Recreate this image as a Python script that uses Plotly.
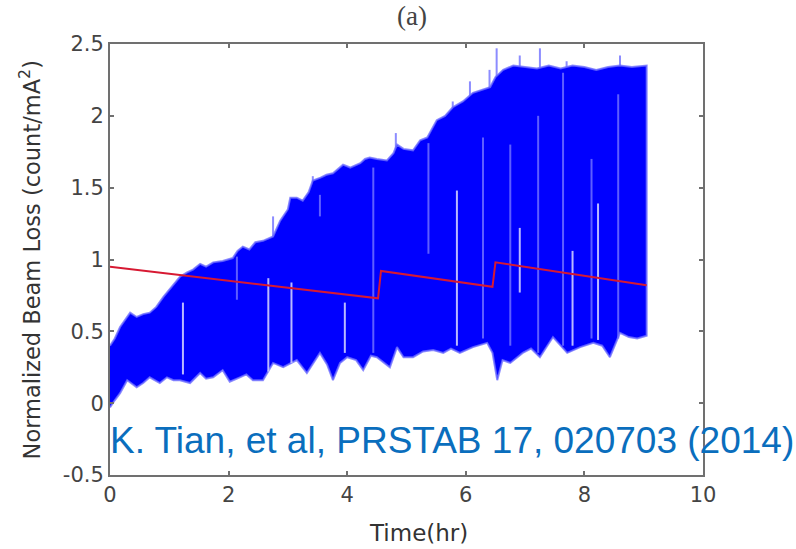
import plotly.graph_objects as go

# ---- data ----
upper_t = [0.0, 0.08, 0.17, 0.25, 0.34, 0.45, 0.56, 0.67, 0.78, 0.9, 1.0, 1.1, 1.18, 1.3, 1.4,
           1.52, 1.62, 1.74, 1.9, 2.07, 2.15, 2.24, 2.35, 2.45, 2.58, 2.75, 2.87, 3.0, 3.04,
           3.15, 3.25, 3.35, 3.42, 3.55, 3.65, 3.76, 3.85, 3.93, 4.05, 4.22, 4.3, 4.38, 4.5,
           4.67, 4.78, 4.84, 4.95, 5.11, 5.23, 5.35, 5.51, 5.65, 5.78, 5.95, 6.12, 6.25, 6.41,
           6.5, 6.63, 6.8, 7.0, 7.2, 7.4, 7.6, 7.8, 8.0, 8.2, 8.4, 8.6, 8.8, 9.05]
upper_v = [0.40, 0.45, 0.53, 0.58, 0.63, 0.60, 0.62, 0.63, 0.67, 0.74, 0.79, 0.84, 0.88, 0.91, 0.93,
           0.97, 0.95, 0.98, 0.99, 1.01, 1.06, 1.09, 1.07, 1.12, 1.13, 1.16, 1.27, 1.35, 1.43,
           1.43, 1.41, 1.47, 1.55, 1.57, 1.59, 1.60, 1.63, 1.66, 1.64, 1.67, 1.70, 1.71, 1.70,
           1.69, 1.74, 1.80, 1.77, 1.76, 1.83, 1.85, 1.97, 2.00, 2.06, 2.10, 2.16, 2.18, 2.20,
           2.27, 2.32, 2.35, 2.34, 2.33, 2.35, 2.33, 2.35, 2.34, 2.32, 2.34, 2.35, 2.34, 2.35]

lower_t = [0.0, 0.08, 0.17, 0.29, 0.45, 0.56, 0.67, 0.84, 0.96, 1.07, 1.18, 1.35, 1.52, 1.62,
           1.74, 1.9, 2.02, 2.19, 2.3, 2.41, 2.58, 2.75, 2.92, 3.15, 3.32, 3.54, 3.66, 3.76,
           3.88, 4.0, 4.15, 4.27, 4.4, 4.5, 4.72, 4.84, 4.95, 5.11, 5.28, 5.45, 5.62, 5.75,
           5.9, 6.12, 6.36, 6.45, 6.53, 6.62, 6.75, 6.96, 7.1, 7.25, 7.47, 7.6, 7.71, 7.93,
           8.15, 8.3, 8.43, 8.6, 8.75, 8.89, 9.05]
lower_v = [-0.03, 0.02, 0.07, 0.16, 0.11, 0.14, 0.18, 0.14, 0.18, 0.16, 0.16, 0.14, 0.21, 0.17,
           0.18, 0.23, 0.15, 0.18, 0.20, 0.16, 0.16, 0.28, 0.25, 0.30, 0.21, 0.35, 0.27, 0.16,
           0.28, 0.32, 0.30, 0.23, 0.33, 0.32, 0.25, 0.39, 0.32, 0.32, 0.36, 0.37, 0.35, 0.38,
           0.35, 0.39, 0.42, 0.35, 0.16, 0.30, 0.28, 0.35, 0.38, 0.32, 0.46, 0.40, 0.35, 0.39,
           0.42, 0.40, 0.32, 0.49, 0.46, 0.45, 0.47]

# peaks sticking above the band (time, top value)
peak_t = [1.52, 2.75, 3.42, 4.82, 5.78, 6.07, 6.40, 6.52, 6.91, 7.25, 7.70, 8.60]
peak_v = [1.00, 1.30, 1.58, 1.88, 2.10, 2.24, 2.32, 2.47, 2.42, 2.47, 2.38, 2.42]

# pale gaps inside the band (time, top, bottom)
gap_t = [1.23, 2.67, 3.06, 3.96, 5.85, 6.91, 7.80, 8.23]
gap_top = [0.70, 0.87, 0.84, 0.70, 1.48, 1.22, 1.06, 1.39]
gap_bot = [0.20, 0.22, 0.28, 0.35, 0.40, 0.77, 0.40, 0.44]

# medium-light stripes inside the band
stripe_t = [2.14, 3.54, 4.44, 5.37, 6.29, 6.75, 7.22, 7.64, 8.12, 8.57]
stripe_top = [1.02, 1.45, 1.64, 1.81, 1.85, 1.80, 2.00, 2.30, 1.70, 2.15]
stripe_bot = [0.72, 1.30, 0.35, 1.04, 0.45, 0.40, 0.35, 0.40, 0.45, 0.45]

# red line (time, value)
red_t = [0.0, 4.52, 4.57, 6.45, 6.50, 9.05]
red_v = [0.95, 0.73, 0.92, 0.81, 0.98, 0.82]

x_ticks = [0, 2, 4, 6, 8, 10]
x_ticktext = ["0", "2", "4", "6", "8", "10"]
y_ticks = [-0.5, 0, 0.5, 1, 1.5, 2, 2.5]
y_ticktext = ["-0.5", "0", "0.5", "1", "1.5", "2", "2.5"]


def segs(ts, tops, bots):
    xs, ys = [], []
    for t, a, b in zip(ts, tops, bots):
        xs += [t, t, None]
        ys += [a, b, None]
    return xs, ys


fig = go.Figure()

# peaks (drawn first so the band covers their lower part)
px, py = segs(peak_t, peak_v, [1.0] * len(peak_v))
fig.add_trace(go.Scatter(x=px, y=py, mode="lines",
                         line=dict(color="rgba(120,120,255,0.85)", width=2),
                         hoverinfo="skip", showlegend=False))

# blue band
band_x = upper_t + lower_t[::-1]
band_y = upper_v + lower_v[::-1]
fig.add_trace(go.Scatter(x=band_x, y=band_y, mode="lines", fill="toself",
                         fillcolor="#0000ff",
                         line=dict(color="rgba(110,110,255,0.8)", width=2),
                         hoverinfo="skip", showlegend=False))

sx, sy = segs(stripe_t, stripe_top, stripe_bot)
fig.add_trace(go.Scatter(x=sx, y=sy, mode="lines",
                         line=dict(color="rgba(110,110,255,0.85)", width=2),
                         hoverinfo="skip", showlegend=False))

gx, gy = segs(gap_t, gap_top, gap_bot)
fig.add_trace(go.Scatter(x=gx, y=gy, mode="lines",
                         line=dict(color="rgba(205,205,255,0.9)", width=2),
                         hoverinfo="skip", showlegend=False))

fig.add_trace(go.Scatter(x=red_t, y=red_v, mode="lines",
                         line=dict(color="rgb(215,25,50)", width=2),
                         hoverinfo="skip", showlegend=False))

axis_common = dict(showgrid=False, zeroline=False, showline=True, linecolor="#707070",
                   linewidth=2, mirror="allticks", ticks="inside", ticklen=4,
                   tickcolor="#707070", tickwidth=2,
                   tickfont=dict(family="DejaVu Sans", size=21, color="#444444"))

fig.update_xaxes(range=[0, 10], tickvals=x_ticks, ticktext=x_ticktext, **axis_common)
fig.update_yaxes(range=[-0.5, 2.5], tickvals=y_ticks, ticktext=y_ticktext, **axis_common)

fig.update_layout(
    width=796, height=549,
    margin=dict(l=110, r=93, t=44, b=74),
    paper_bgcolor="white", plot_bgcolor="white",
    showlegend=False,
    annotations=[
        dict(text="(a)", xref="paper", yref="paper", x=0.51, y=1.065, showarrow=False,
             xanchor="center", yanchor="middle",
             font=dict(family="Liberation Serif", size=27, color="#444444")),
        dict(text="Time(hr)", xref="paper", yref="paper", x=0.52, y=-0.135, showarrow=False,
             xanchor="center", yanchor="middle",
             font=dict(family="DejaVu Sans", size=23, color="#333333")),
        dict(text="Normalized Beam Loss (count/mA<sup>2</sup>)", xref="paper", yref="paper",
             x=-0.135, y=0.5, showarrow=False, textangle=-90,
             xanchor="center", yanchor="middle",
             font=dict(family="DejaVu Sans", size=22.5, color="#333333")),
        dict(text="K. Tian, et al, PRSTAB 17, 020703 (2014)", xref="paper", yref="y",
             x=-0.004, y=-0.26, showarrow=False, xanchor="left", yanchor="middle",
             font=dict(family="Liberation Sans", size=37, color="#0a6ebd")),
    ],
)

fig.write_html("out.html")
